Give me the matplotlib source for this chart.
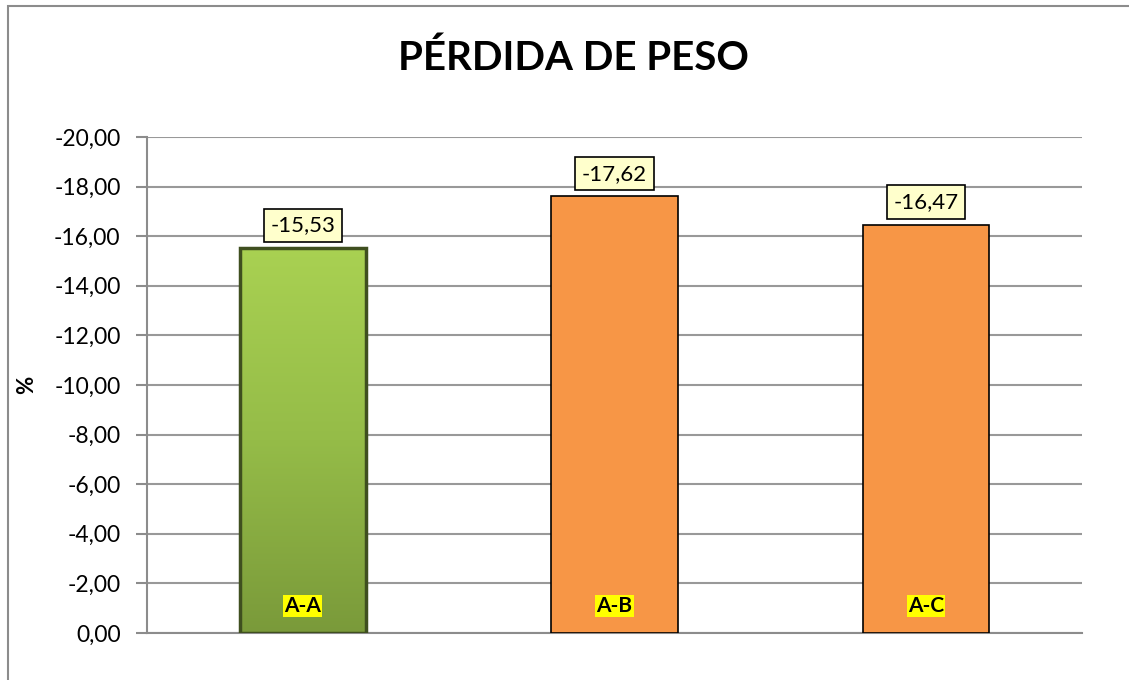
import matplotlib.pyplot as plt
import numpy as np
from matplotlib.patches import Rectangle
from matplotlib.colors import LinearSegmentedColormap
from matplotlib.ticker import FuncFormatter, MultipleLocator

categories = ['A-A', 'A-B', 'A-C']
values = [-15.53, -17.62, -16.47]
bar_colors = ['#8DB443', '#F79646', '#F79646']

plt.rcParams['font.family'] = ['Lato', 'DejaVu Sans']

fig = plt.figure(figsize=(11.29, 6.80), dpi=100)
ax = fig.add_axes([0.1302, 0.0691, 0.8282, 0.7294])

# outer chart border
fig.patches.append(Rectangle((8 / 1129, -0.05), 1.2, 1.05 - 6 / 680,
                             transform=fig.transFigure, fill=False,
                             edgecolor='#8C8C8C', lw=1.5))

x = np.arange(len(categories))
width = 0.405
bars = ax.bar(x, values, width=width, color=bar_colors, edgecolor='black',
              lw=1.2, zorder=3)

# gradient on first bar (light at top, darker at base)
b = bars[0]
grad = np.linspace(0, 1, 256).reshape(-1, 1)
cmap = LinearSegmentedColormap.from_list('g', ['#7A9A3A', '#95BC48', '#A9D152'])
im = ax.imshow(grad, extent=[b.get_x(), b.get_x() + b.get_width(), values[0], 0],
               aspect='auto', cmap=cmap, zorder=3.5, origin='upper')
im.set_clip_path(b)
ax.add_patch(Rectangle((b.get_x(), 0), b.get_width(), values[0], fill=False,
                       edgecolor='#3F4F1F', lw=2.5, zorder=4))

for xi, v in zip(x, values):
    ax.text(xi, v - 0.5, f'{v:.2f}'.replace('.', ','), ha='center', va='bottom',
            fontsize=16, zorder=5,
            bbox=dict(boxstyle='square,pad=0.3', fc='#FFFFCC', ec='black', lw=1.2))

for xi, c in zip(x, categories):
    ax.text(xi, -1.1, c, ha='center', va='center', fontsize=15, fontweight='bold',
            zorder=5, bbox=dict(boxstyle='square,pad=0.05', fc='#FFFF00', ec='none'))

ax.set_xlim(-0.5, 2.5)
ax.set_ylim(0, -20)
ax.yaxis.set_major_locator(MultipleLocator(2))
ax.yaxis.set_major_formatter(FuncFormatter(lambda v, p: f'{v:.2f}'.replace('.', ',').replace('-0,00', '0,00')))
ax.tick_params(axis='y', labelsize=16.5, length=8, color='#8C8C8C', width=1.5, pad=11)
ax.tick_params(axis='x', bottom=False, labelbottom=False)
ax.yaxis.grid(True, color='#999999', lw=1.5, zorder=0)
ax.set_axisbelow(True)
for s in ['top', 'right']:
    ax.spines[s].set_visible(False)
for s in ['left', 'bottom']:
    ax.spines[s].set_color('#8C8C8C')
    ax.spines[s].set_linewidth(1.5)

ax.set_ylabel('%', fontsize=16, fontweight='bold', labelpad=12)
fig.text(573 / 1129, 1 - 58 / 680, 'PÉRDIDA DE PESO', ha='center', va='center',
         fontsize=29, fontweight='bold')

fig.savefig('out.png', dpi=100)
